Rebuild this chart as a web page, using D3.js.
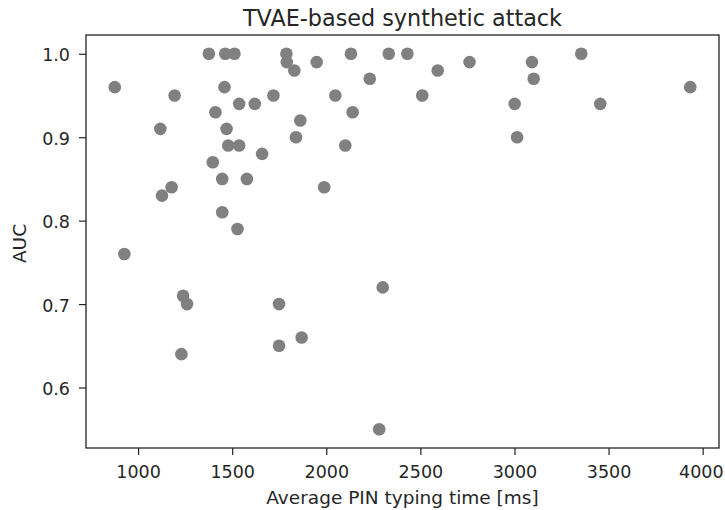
<!DOCTYPE html>
<html>
<head>
<meta charset="utf-8">
<script src="https://cdn.jsdelivr.net/npm/d3@7"></script>
<style>
  html, body { margin: 0; padding: 0; background: #fff; }
  svg { display: block; font-family: "DejaVu Sans", sans-serif; }
</style>
</head>
<body>
<svg id="chart" width="725" height="510"></svg>
<script>
// ---- data ----
const title = "TVAE-based synthetic attack";
const xLabel = "Average PIN typing time [ms]";
const yLabel = "AUC";
const pinTime = [876, 927, 1118, 1127, 1178, 1194, 1230, 1239, 1260, 1376, 1397, 1411,
  1447, 1447, 1459, 1470, 1463, 1479, 1512, 1528, 1537, 1537, 1578, 1620, 1659, 1719,
  1749, 1749, 1788, 1790, 1830, 1839, 1862, 1869, 1949, 1989, 2048, 2101, 2131, 2140,
  2231, 2281, 2300, 2332, 2431, 2510, 2592, 2761, 3001, 3014, 3093, 3102, 3355, 3456, 3934];
const auc = [0.96, 0.76, 0.91, 0.83, 0.84, 0.95, 0.64, 0.71, 0.70, 1.00, 0.87, 0.93,
  0.85, 0.81, 0.96, 0.91, 1.00, 0.89, 1.00, 0.79, 0.94, 0.89, 0.85, 0.94, 0.88, 0.95,
  0.70, 0.65, 1.00, 0.99, 0.98, 0.90, 0.92, 0.66, 0.99, 0.84, 0.95, 0.89, 1.00, 0.93,
  0.97, 0.55, 0.72, 1.00, 1.00, 0.95, 0.98, 0.99, 0.94, 0.90, 0.99, 0.97, 1.00, 0.94, 0.96];
const xTicks = [1000, 1500, 2000, 2500, 3000, 3500, 4000];
const yTicks = [0.6, 0.7, 0.8, 0.9, 1.0];

// ---- layout ----
const svg = d3.select("#chart");
const m = { left: 86, top: 35, right: 719, bottom: 448 };
const fsTick = 17.5, fsLabel = 18.5, fsTitle = 22.3;

// matplotlib-style 5% margins
const xmin = d3.min(pinTime), xmax = d3.max(pinTime);
const ymin = d3.min(auc), ymax = d3.max(auc);
const xPad = (xmax - xmin) * 0.05, yPad = (ymax - ymin) * 0.05;
const x = d3.scaleLinear().domain([xmin - xPad, xmax + xPad]).range([m.left, m.right]);
const y = d3.scaleLinear().domain([ymin - yPad, ymax + yPad]).range([m.bottom, m.top]);

// points
svg.append("g").selectAll("circle")
  .data(pinTime.map((d, i) => [d, auc[i]]))
  .join("circle")
  .attr("cx", d => x(d[0]))
  .attr("cy", d => y(d[1]))
  .attr("r", 6.3)
  .attr("fill", "#808080");

// axes
const xAxis = d3.axisBottom(x).tickValues(xTicks).tickFormat(d3.format("d"))
  .tickSizeInner(7).tickSizeOuter(0).tickPadding(6);
const yAxis = d3.axisLeft(y).tickValues(yTicks).tickFormat(d3.format(".1f"))
  .tickSizeInner(7).tickSizeOuter(0).tickPadding(9);

const gx = svg.append("g").attr("transform", `translate(0,${m.bottom})`).call(xAxis);
const gy = svg.append("g").attr("transform", `translate(${m.left},0)`).call(yAxis);
[gx, gy].forEach(g => {
  g.select(".domain").remove();
  g.selectAll(".tick line").attr("stroke", "#222").attr("stroke-width", 1.2);
  g.selectAll(".tick text").attr("font-size", fsTick).attr("font-family", "DejaVu Sans")
    .attr("fill", "#262626");
});
gx.selectAll(".tick text").attr("dy", "0.95em");
gx.selectAll(".tick text").filter(d => d === 4000).attr("dx", -1.8);
gy.selectAll(".tick text").attr("dy", "0.4em");

// frame
svg.append("rect")
  .attr("x", m.left).attr("y", m.top)
  .attr("width", m.right - m.left).attr("height", m.bottom - m.top)
  .attr("fill", "none").attr("stroke", "#222").attr("stroke-width", 1.3);

// title & labels
svg.append("text").attr("x", (m.left + m.right) / 2).attr("y", 26)
  .attr("text-anchor", "middle").attr("font-size", fsTitle).attr("fill", "#262626")
  .text(title);
svg.append("text").attr("x", (m.left + m.right) / 2).attr("y", 504)
  .attr("text-anchor", "middle").attr("font-size", fsLabel).attr("fill", "#262626")
  .text(xLabel);
svg.append("text")
  .attr("transform", `translate(26,${(m.top + m.bottom) / 2 + 2}) rotate(-90)`)
  .attr("text-anchor", "middle").attr("font-size", fsLabel).attr("fill", "#262626")
  .text(yLabel);
</script>
</body>
</html>
